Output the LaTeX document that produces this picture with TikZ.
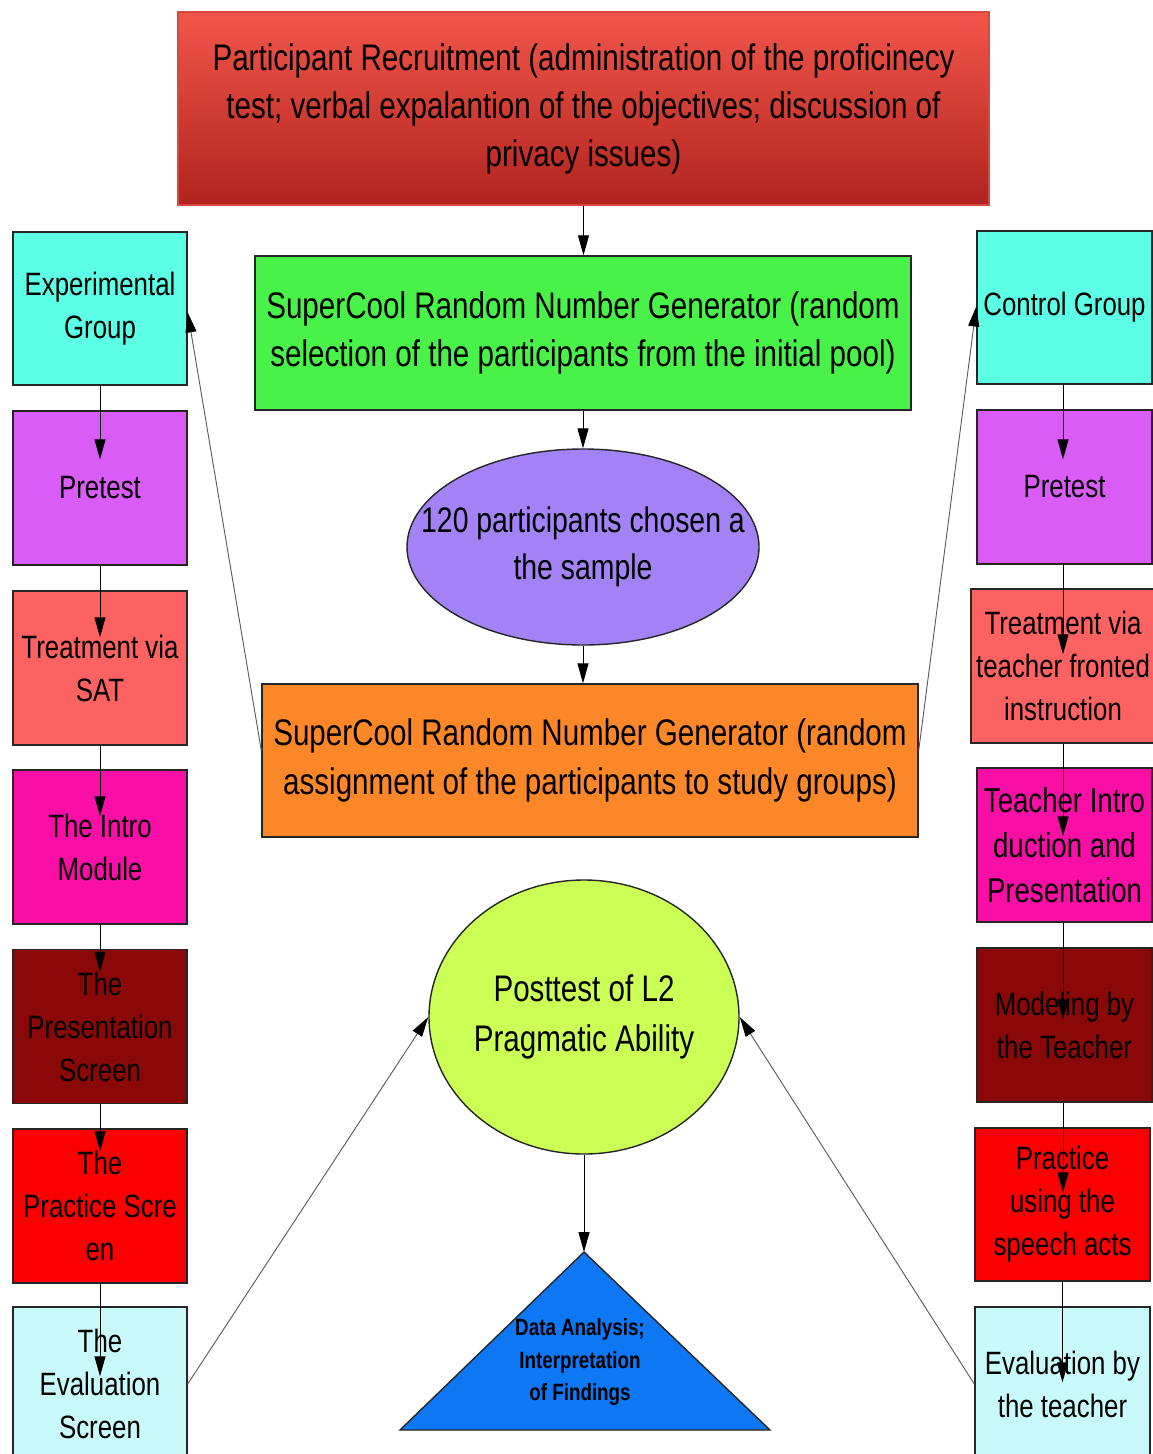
\documentclass[tikz,border=0pt]{standalone}
\usepackage{fontspec}
\setmainfont{Liberation Sans}[FakeStretch=0.8]
\usetikzlibrary{shapes.geometric,arrows.meta,calc}
\definecolor{topA}{HTML}{F2564A}
\definecolor{topB}{HTML}{B0231E}
\definecolor{topEdge}{HTML}{D9483D}
\definecolor{cGreen}{HTML}{48F248}
\definecolor{cPurple}{HTML}{A282F5}
\definecolor{cOrange}{HTML}{FC8728}
\definecolor{cLime}{HTML}{CBFF55}
\definecolor{cBlue}{HTML}{0D77F4}
\definecolor{cCyan}{HTML}{5CFFE6}
\definecolor{cMagenta}{HTML}{DA5CF7}
\definecolor{cSalmon}{HTML}{FC6262}
\definecolor{cPink}{HTML}{FA0FA6}
\definecolor{cDark}{HTML}{8B0808}
\definecolor{cRed}{HTML}{FA0000}
\definecolor{cLight}{HTML}{C8FAFB}
\begin{document}
\begin{tikzpicture}[x=1pt,y=-1pt,
  box/.style={draw=black!85,line width=1.4pt,inner sep=0pt,align=center,
              font=\fontsize{32.3}{43}\selectfont},
  lbox/.style={box,minimum width=174pt,minimum height=154pt},
  big/.style={font=\fontsize{37}{48}\selectfont,align=center},
  arr/.style={draw=black,line width=1pt,-{Triangle[length=20pt,width=11pt]}},
  diag/.style={draw=black!65,line width=0.9pt,-{Triangle[length=20pt,width=11pt,color=black]}}]
\useasboundingbox (0,0) rectangle (1152,1454);
\fill[white] (0,0) rectangle (1152,1454);

% central column
\node[big,draw=topEdge,line width=1.4pt,top color=topA,bottom color=topB,
      inner sep=0pt,minimum width=811pt,minimum height=193pt] (rec) at (583.5,108.5)
  {Participant Recruitment (administration of the proficinecy\\
   test; verbal expalantion of the objectives; discussion of\\
   privacy issues)};
\node[box,font=\fontsize{37}{48}\selectfont,fill=cGreen,minimum width=656pt,minimum height=154pt] (sel) at (583,333)
  {SuperCool Random Number Generator (random\\
   selection of the participants from the initial pool)};
\node[ellipse,draw=black!85,line width=1.4pt,fill=cPurple,inner sep=0pt,
      minimum width=352pt,minimum height=196pt] (samp) at (583,547) {};
\node[font=\fontsize{35.5}{47}\selectfont,align=center] (samptext) at (samp.center)
  {120 participants chosen a\\the sample};
\node[box,font=\fontsize{37}{49}\selectfont,fill=cOrange,minimum width=656pt,minimum height=153pt] (asg) at (590,760.5)
  {SuperCool Random Number Generator (random\\
   assignment of the participants to study groups)};
\node[ellipse,draw=black!85,line width=1.4pt,fill=cLime,inner sep=0pt,
      minimum width=310pt,minimum height=274pt] (post) at (584,1017) {};
\node[font=\fontsize{37}{50}\selectfont,align=center] (posttext) at (post.center)
  {Posttest of L2\\Pragmatic Ability};
\coordinate (tapex) at (584,1252);
\draw[draw=black!85,line width=1.4pt,fill=cBlue] (tapex) -- (770,1430) -- (400,1430) -- cycle;
\node[font=\fontsize{23.5}{32.5}\selectfont\bfseries,align=center] (tritext) at (580,1362)
  {Data Analysis;\\Interpretation\\of Findings};

% left column
\node[lbox,fill=cCyan,minimum height=153pt] (exp) at (100,308.5) {Experimental\\Group};
\node[lbox,fill=cMagenta] (lpre) at (100,488) {Pretest};
\node[lbox,fill=cSalmon] (ltreat) at (100,668) {Treatment via\\SAT};
\node[lbox,fill=cPink] (lintro) at (100,847) {The Intro\\Module};
\node[lbox,fill=cDark] (lpres) at (100,1026.5) {The\\Presentation\\Screen};
\node[lbox,fill=cRed] (lprac) at (100,1206) {The\\Practice Scre\\en};
\node[lbox,fill=cLight] (leval) at (100,1384) {The\\Evaluation\\Screen};

% right column
\node[lbox,fill=cCyan,minimum width=175pt,minimum height=153pt] (ctrl) at (1064.5,307.5) {Control Group};
\node[lbox,fill=cMagenta,minimum width=175pt] (rpre) at (1064.5,487) {Pretest};
\node[lbox,fill=cSalmon,minimum width=184pt] (rtreat) at (1063,666) {Treatment via\\teacher fronted\\instruction};
\node[lbox,fill=cPink,minimum width=175pt,font=\fontsize{34.5}{45}\selectfont] (rintro) at (1064.5,845) {Teacher Intro\\duction and\\Presentation};
\node[lbox,fill=cDark,minimum width=175pt] (rmod) at (1064.5,1025) {Modeling by\\the Teacher};
\node[lbox,fill=cRed,minimum width=175pt,minimum height=153pt] (rprac) at (1062.5,1204.5) {Practice\\using the\\speech acts};
\node[lbox,fill=cLight,minimum width=175pt] (reval) at (1062.5,1384) {Evaluation by\\the teacher};

% central arrows
\draw[arr] (rec.south) -- (rec.south |- sel.north);
\draw[arr] (sel.south) -- (sel.south |- samp.north);
\draw[arr] (samp.south) -- (samp.south |- asg.north);
\draw[arr] (post.south) -- (tapex);

% left column arrows
\draw[arr] (exp.south) -- ([yshift=-49pt]exp.south |- lpre.north);
\draw[arr] (lpre.south) -- ([yshift=-47pt]lpre.south |- ltreat.north);
\draw[arr] (ltreat.south) -- ([yshift=-47pt]ltreat.south |- lintro.north);
\draw[arr] (lintro.south) -- ([yshift=-23pt]lintro.south |- lpres.north);
\draw[arr] (lpres.south) -- ([yshift=-23pt]lpres.south |- lprac.north);
\draw[arr] (lprac.south) -- ([yshift=-70pt]lprac.south |- leval.north);

% right column arrows
\draw[arr] ([xshift=-1.5pt]ctrl.south) -- ([xshift=-1.5pt,yshift=-50pt]ctrl.south |- rpre.north);
\draw[arr] ([xshift=-1.5pt]rpre.south) -- ([xshift=-1.5pt,yshift=-66pt]rpre.south |- rtreat.north);
\draw[arr] (rtreat.south) -- ([yshift=-69pt]rtreat.south |- rintro.north);
\draw[arr] ([xshift=-1.5pt]rintro.south) -- ([xshift=-1.5pt,yshift=-72pt]rintro.south |- rmod.north);
\draw[arr] ([xshift=-1.5pt]rmod.south) -- ([xshift=-1.5pt,yshift=-65pt]rmod.south |- rprac.north);
\draw[arr] (rprac.south) -- ([yshift=-76pt]rprac.south |- reval.north);

% diagonal connectors
\draw[diag] ([yshift=10pt]asg.west) -- ([yshift=-4pt]exp.east);
\draw[diag] ([yshift=10pt]asg.east) -- ([yshift=1pt]ctrl.west);
\draw[diag] (leval.east) -- (post.west);
\draw[diag] (reval.west) -- (post.east);
\end{tikzpicture}
\end{document}
